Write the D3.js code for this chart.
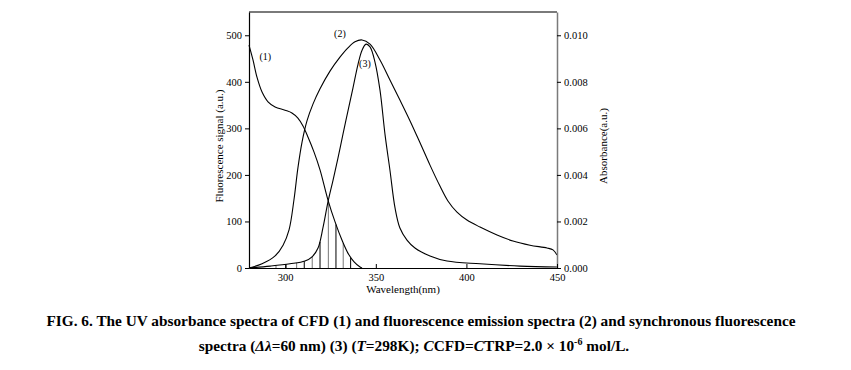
<!DOCTYPE html>
<html>
<head>
<meta charset="utf-8">
<script src="https://cdn.jsdelivr.net/npm/d3@7"></script>
<style>
  body { margin: 0; background: #fff; }
  text { font-family: "Liberation Serif", "Times New Roman", serif; }
</style>
</head>
<body>
<svg id="chart" width="851" height="370"></svg>
<script>
// curve (1): UV absorbance of CFD (right axis)
var wl1 = [280, 282.2, 284.4, 287.2, 290.5, 294.4, 299.9, 303.7, 307, 309.8, 312.6, 315.9, 319.2, 323.6, 327.5, 331.3, 334.6, 338, 341.3, 342.4];
var abs1 = [0.00958, 0.00894, 0.0082, 0.00756, 0.00714, 0.00692, 0.00678, 0.00666, 0.00644, 0.0061, 0.00562, 0.00498, 0.00422, 0.00292, 0.00198, 0.0012, 0.00064, 0.00026, 0.00004, 0];
// curve (2): fluorescence emission (left axis)
var wl2 = [280, 287.2, 294.4, 298.8, 302.1, 304.8, 307, 309.3, 312, 315.3, 319.2, 324.7, 330.2, 334.6, 338.5, 342.4, 346.8, 352.3, 357.8, 363.3, 368.9, 374.4, 379.9, 385.4, 389.8, 394.8, 400.3, 407.5, 416.9, 425.7, 435.1, 444.5, 447.8, 450];
var fl2 = [0, 9, 26, 49, 82, 146, 215, 271, 316, 352, 385, 423, 453, 473, 486, 490, 481, 447, 404, 361, 316, 269, 221, 176, 144, 120, 103, 88, 71, 58, 49, 43, 39, 28];
// curve (3): synchronous fluorescence (left axis)
var wl3 = [280, 291.6, 302.6, 310.9, 314.8, 318.1, 320.8, 323.6, 326.4, 329.1, 331.9, 334.6, 337.4, 340.2, 342.4, 344.6, 346.8, 349.5, 352.3, 355.1, 357.8, 360.6, 363.3, 367.2, 371.6, 379.9, 389.3, 407.5, 429.6, 450];
var fl3 = [0, 4, 9, 15, 24, 43, 86, 142, 189, 236, 288, 337, 387, 438, 468, 481, 475, 443, 382, 286, 210, 129, 86, 60, 43, 26, 15, 9, 4, 2];
// hatched overlap lines
var hatchWl = [294.9, 300.4, 306.3, 310.5, 314.9, 319.2, 323.8, 328.0, 332.0, 336.1];

var leftTicks = [0, 100, 200, 300, 400, 500];
var rightTicks = [0, 0.002, 0.004, 0.006, 0.008, 0.010];
var xTicks = [300, 350, 400, 450];
var curveLabels = [
  {name: '(1)', wl: 289, v: 447},
  {name: '(2)', wl: 330.2, v: 496},
  {name: '(3)', wl: 344, v: 431}
];

var svg = d3.select('#chart');
var mLeft = 249, mRight = 557, mTop = 12, mBottom = 268;

var x = d3.scaleLinear().domain([280, 450]).range([mLeft, mRight]);
var y = d3.scaleLinear().domain([0, 550]).range([mBottom, mTop]);
var yR = d3.scaleLinear().domain([0, 0.011]).range([mBottom, mTop]);

var line = d3.line().curve(d3.curveCatmullRom.alpha(0.5));

var g = svg.append('g');

var p1 = g.append('path')
  .attr('d', line(wl1.map((w, i) => [x(w), yR(abs1[i])])))
  .attr('fill', 'none').attr('stroke', '#000').attr('stroke-width', 1.1);
var p2 = g.append('path')
  .attr('d', line(wl2.map((w, i) => [x(w), y(fl2[i])])))
  .attr('fill', 'none').attr('stroke', '#000').attr('stroke-width', 1.1);
var p3 = g.append('path')
  .attr('d', line(wl3.map((w, i) => [x(w), y(fl3[i])])))
  .attr('fill', 'none').attr('stroke', '#000').attr('stroke-width', 1.1);

// find y on a path for a given pixel x (paths run left to right)
function yAt(node, px) {
  var lo = 0, hi = node.getTotalLength();
  for (var k = 0; k < 40; k++) {
    var mid = (lo + hi) / 2;
    if (node.getPointAtLength(mid).x < px) lo = mid; else hi = mid;
  }
  return node.getPointAtLength(lo).y;
}

// hatching under the overlap of (1) and (3), behind the curves
g.selectAll('.hatch')
  .data(hatchWl)
  .enter()
  .insert('line', 'path')
  .attr('class', 'hatch')
  .attr('x1', d => x(d)).attr('x2', d => x(d))
  .attr('y1', mBottom)
  .attr('y2', d => Math.max(yAt(p1.node(), x(d)), yAt(p3.node(), x(d))))
  .attr('stroke', (d, i) => i % 2 ? '#000' : '#777')
  .attr('stroke-width', 1);

// frame top
svg.append('line').attr('x1', mLeft).attr('x2', mRight).attr('y1', mTop).attr('y2', mTop)
  .attr('stroke', '#7a7a7a').attr('stroke-width', 2);

// left axis
var axL = svg.append('g').attr('transform', 'translate(' + mLeft + ',0)')
  .call(d3.axisLeft(y).tickValues(leftTicks).tickSize(4).tickSizeOuter(0).tickPadding(3));
// right axis
var axR = svg.append('g').attr('transform', 'translate(' + mRight + ',0)')
  .call(d3.axisRight(yR).tickValues(rightTicks).tickSize(4).tickSizeOuter(0).tickPadding(3)
    .tickFormat(d3.format('.3f')));
// bottom axis, ticks pointing inward
var axB = svg.append('g').attr('transform', 'translate(0,' + mBottom + ')')
  .call(d3.axisBottom(x).tickValues(xTicks).tickSize(-4).tickSizeOuter(0).tickPadding(6));

[axL, axR, axB].forEach(a => {
  a.selectAll('text').attr('font-family', '"Liberation Serif", serif').attr('font-size', 10.5).attr('fill', '#000');
  a.selectAll('line').attr('stroke', '#000');
  a.select('.domain').attr('stroke', '#000').attr('stroke-width', 1.2);
});
axR.select('.domain').attr('stroke', '#7a7a7a').attr('stroke-width', 1.5);

// axis titles
svg.append('text')
  .attr('transform', 'translate(223,146) rotate(-90)')
  .attr('text-anchor', 'middle').attr('font-size', 11)
  .text('Fluorescence signal (a.u.)');
svg.append('text')
  .attr('transform', 'translate(607,146) rotate(-90)')
  .attr('text-anchor', 'middle').attr('font-size', 11)
  .text('Absorbance(a.u.)');
svg.append('text')
  .attr('x', 403).attr('y', 293)
  .attr('text-anchor', 'middle').attr('font-size', 11)
  .text('Wavelength(nm)');

// curve labels
svg.selectAll('.clabel')
  .data(curveLabels)
  .enter()
  .append('text')
  .attr('class', 'clabel')
  .attr('x', d => x(d.wl)).attr('y', d => y(d.v))
  .attr('text-anchor', 'middle').attr('font-size', 10)
  .text(d => d.name);

// caption
var cap = svg.append('g').attr('font-weight', 'bold').attr('font-size', 15.3);
cap.append('text').attr('x', 421).attr('y', 326).attr('text-anchor', 'middle')
  .text('FIG. 6. The UV absorbance spectra of CFD (1) and fluorescence emission spectra (2) and synchronous fluorescence');
var l2 = cap.append('text').attr('x', 414).attr('y', 351).attr('text-anchor', 'middle');
l2.append('tspan').text('spectra (');
l2.append('tspan').attr('font-style', 'italic').text('Δλ');
l2.append('tspan').text('=60 nm) (3) (');
l2.append('tspan').attr('font-style', 'italic').text('T');
l2.append('tspan').text('=298K); ');
l2.append('tspan').attr('font-style', 'italic').text('C');
l2.append('tspan').text('CFD=');
l2.append('tspan').attr('font-style', 'italic').text('C');
l2.append('tspan').text('TRP=2.0 × 10');
l2.append('tspan').attr('font-size', 10).attr('dy', -6).text('-6');
l2.append('tspan').attr('dy', 6).text(' mol/L.');
</script>
</body>
</html>
